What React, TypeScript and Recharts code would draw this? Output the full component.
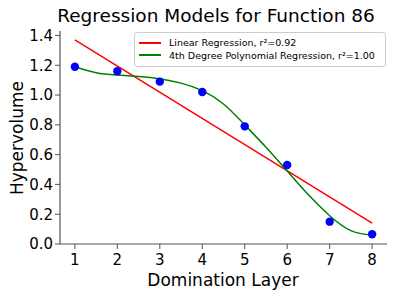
import React from 'react';
import { ComposedChart, Line, Scatter, XAxis, YAxis, Legend } from 'recharts';

const layers = [1, 2, 3, 4, 5, 6, 7, 8];
const hypervolume = [1.19, 1.16, 1.09, 1.02, 0.79, 0.53, 0.15, 0.065];

const linearX = [1, 8];
const linearY = [1.37, 0.14];

const polyX = [1, 1.5, 2, 2.5, 3, 3.5, 4, 4.5, 5, 5.5, 6, 6.5, 7, 7.5, 8];
const polyY = [1.19, 1.15, 1.135, 1.125, 1.11, 1.08, 1.03, 0.94, 0.8, 0.65, 0.49, 0.33, 0.19, 0.09, 0.06];

const xTicks = [1, 2, 3, 4, 5, 6, 7, 8];
const yTicks = [0, 0.2, 0.4, 0.6, 0.8, 1.0, 1.2, 1.4];

const title = 'Regression Models for Function 86';
const xLabel = 'Domination Layer';
const yLabel = 'Hypervolume';
const linearLabel = 'Linear Regression, r\u00b2=0.92';
const polyLabel = '4th Degree Polynomial Regression, r\u00b2=1.00';

const pointData = layers.map((x, i) => ({ x, y: hypervolume[i] }));
const linearData = linearX.map((x, i) => ({ x, lin: linearY[i] }));
const polyData = polyX.map((x, i) => ({ x, poly: polyY[i] }));

const FONT = 'DejaVu Sans, sans-serif';
const AXIS = '#555';

const LegendBox = () => (
  <div
    style={{
      position: 'absolute',
      left: 134,
      top: 32,
      width: 252,
      height: 35,
      border: '1px solid #ccc',
      borderRadius: 3,
      background: 'rgba(255,255,255,0.85)',
      fontFamily: FONT,
      fontSize: 9.5,
      color: '#000',
      boxSizing: 'border-box',
    }}
  >
    {[
      { c: '#ff0000', t: linearLabel },
      { c: '#008000', t: polyLabel },
    ].map((r, i) => (
      <div key={i} style={{ position: 'absolute', left: 4, top: 4 + i * 12.5, display: 'flex', alignItems: 'center', whiteSpace: 'nowrap' }}>
        <div style={{ width: 22, height: 2, background: r.c, marginRight: 8 }} />
        <span>{r.t}</span>
      </div>
    ))}
  </div>
);

export default function App() {
  return (
    <div style={{ position: 'absolute', left: 0, top: 0, width: 399, height: 295, background: '#fff' }}>
      <ComposedChart width={399} height={295} margin={{ top: 31, right: 12, bottom: 0, left: 0 }}>
        <XAxis
          xAxisId="main"
          type="number"
          dataKey="x"
          domain={[0.65, 8.35]}
          ticks={xTicks}
          allowDataOverflow
          height={51}
          tickSize={5}
          tickLine={{ stroke: AXIS }}
          axisLine={{ stroke: AXIS, strokeWidth: 1.2 }}
          tick={{ fill: '#000', fontSize: 15, fontFamily: FONT, dy: 3 }}
        />
        <XAxis xAxisId="top" orientation="top" type="number" dataKey="x" domain={[0.65, 8.35]} height={0} tick={false} tickLine={false} axisLine={{ stroke: AXIS, strokeWidth: 1.2 }} />
        <YAxis
          yAxisId="main"
          type="number"
          domain={[0, 1.43]}
          ticks={yTicks}
          allowDataOverflow
          width={60}
          tickSize={5}
          tickLine={{ stroke: AXIS }}
          axisLine={{ stroke: AXIS, strokeWidth: 1.2 }}
          tickFormatter={(v: number) => v.toFixed(1)}
          tick={{ fill: '#000', fontSize: 15, fontFamily: FONT }}
        />
        <YAxis yAxisId="right" orientation="right" type="number" domain={[0, 1.43]} width={0} tick={false} tickLine={false} axisLine={{ stroke: AXIS, strokeWidth: 1.2 }} />
        <Line xAxisId="main" yAxisId="main" data={linearData} dataKey="lin" type="linear" stroke="#ff0000" strokeWidth={1.5} dot={false} isAnimationActive={false} />
        <Line xAxisId="main" yAxisId="main" data={polyData} dataKey="poly" type="natural" stroke="#008000" strokeWidth={1.5} dot={false} isAnimationActive={false} />
        <Scatter xAxisId="main" yAxisId="main" data={pointData} dataKey="y" fill="#0000ff" shape={(p: any) => <circle cx={p.cx} cy={p.cy} r={4.2} fill="#0000ff" />} isAnimationActive={false} />
        <text x={216} y={22} textAnchor="middle" fontFamily={FONT} fontSize={18.5} fill="#000">{title}</text>
        <text x={281} y={0} textAnchor="middle" fontFamily={FONT} fontSize={17} fill="#000" transform="translate(-58, 286)">{xLabel}</text>
        <text x={0} y={0} textAnchor="middle" fontFamily={FONT} fontSize={17} fill="#000" transform="translate(23, 138) rotate(-90)">{yLabel}</text>
        <Legend content={() => null} />
      </ComposedChart>
      <LegendBox />
    </div>
  );
}
